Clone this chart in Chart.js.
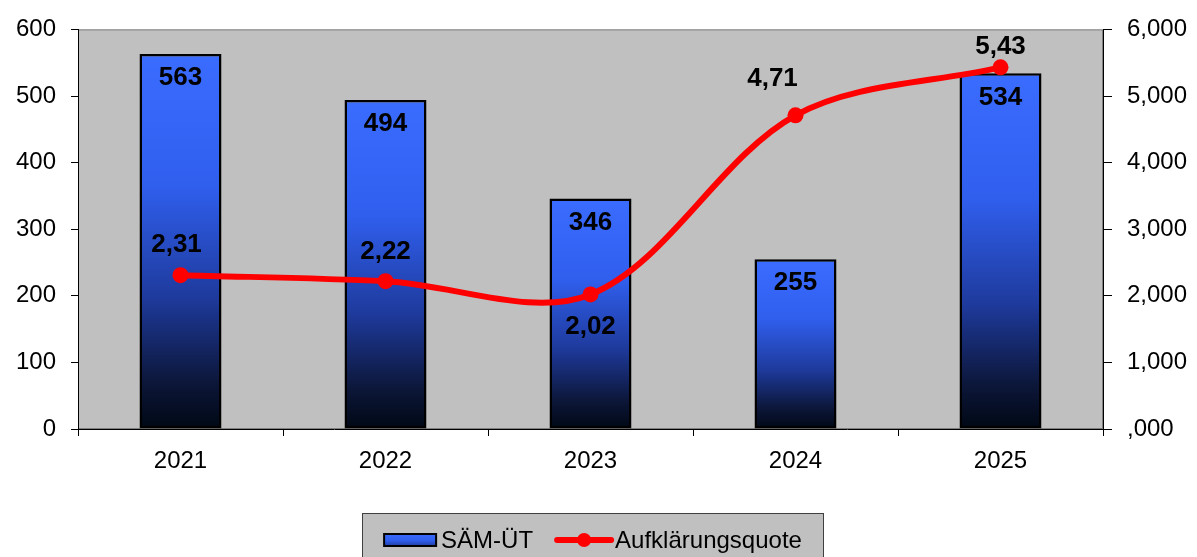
<!DOCTYPE html>
<html>
<head>
<meta charset="utf-8">
<title>SÄM-ÜT / Aufklärungsquote</title>
<script src="https://cdn.jsdelivr.net/npm/chart.js@4/dist/chart.umd.min.js"></script>
<style>
  body { margin: 0; background: #fff; }
  #chart { display: block; }
</style>
</head>
<body>
<canvas id="chart" width="1197" height="557"></canvas>
<script>
const years = ["2021", "2022", "2023", "2024", "2025"];
const saemUt = [563, 494, 346, 255, 534];
const quote = [2.31, 2.22, 2.02, 4.71, 5.43];
const leftTicks = [0, 100, 200, 300, 400, 500, 600];
const rightTicks = [0, 1, 2, 3, 4, 5, 6];

const axisFont = { family: "'Liberation Sans', Arial, sans-serif", size: 24 };
const boldFont = "bold 26px 'Liberation Sans', Arial, sans-serif";

// german style: 6,000 ... ,000
function fmtRight(v) {
  if (v === 0) return ",000";
  return v.toFixed(3).replace(".", ",");
}

function barGradient(ctx, top, bottom) {
  const g = ctx.createLinearGradient(0, top, 0, bottom);
  g.addColorStop(0, "#3a6cff");
  g.addColorStop(0.35, "#305fee");
  g.addColorStop(0.65, "#1e3a9c");
  g.addColorStop(0.88, "#0c1638");
  g.addColorStop(1, "#000814");
  return g;
}

const plotBackground = {
  id: "plotBackground",
  beforeDraw(chart) {
    const a = chart.chartArea;
    const c = chart.ctx;
    c.save();
    c.fillStyle = "#c0c0c0";
    c.fillRect(a.left, a.top, a.right - a.left, a.bottom - a.top);
    c.strokeStyle = "#808080";
    c.lineWidth = 1;
    c.strokeRect(a.left + 0.5, a.top + 0.5, a.right - a.left - 1, a.bottom - a.top - 1);
    c.restore();
  }
};

const valueLabels = {
  id: "valueLabels",
  afterDatasetsDraw(chart, args, opts) {
    const c = chart.ctx;
    c.save();
    c.font = boldFont;
    c.fillStyle = "#000";
    c.textAlign = "center";
    c.textBaseline = "middle";
    chart.getDatasetMeta(0).data.forEach((bar, i) => {
      c.fillText(String(saemUt[i]), bar.x, bar.y + 24);
    });
    chart.getDatasetMeta(1).data.forEach((pt, i) => {
      const off = opts.lineOffsets[i];
      c.fillText(quote[i].toFixed(2).replace(".", ","), pt.x + off[0], pt.y + off[1]);
    });
    c.restore();
  }
};

const boxLegend = {
  id: "boxLegend",
  afterDraw(chart) {
    const c = chart.ctx;
    const bx = 362, by = 513, bw = 462, bh = 50;
    c.save();
    c.fillStyle = "#c0c0c0";
    c.fillRect(bx, by, bw, bh);
    c.strokeStyle = "#404040";
    c.lineWidth = 1;
    c.strokeRect(bx + 0.5, by + 0.5, bw - 1, bh - 1);

    const cy = 540;
    c.font = axisFont.size + "px " + axisFont.family;
    c.textBaseline = "middle";
    c.textAlign = "left";
    const t1 = chart.data.datasets[0].label;
    const t2 = chart.data.datasets[1].label;
    const w1 = c.measureText(t1).width;
    const w2 = c.measureText(t2).width;
    const total = 52 + 5 + w1 + 22 + 58 + 2 + w2;
    let x = bx + (bw - total) / 2;

    // bar symbol
    c.fillStyle = barGradient(c, cy - 7, cy + 14);
    c.fillRect(x, cy - 6, 52, 12);
    c.strokeStyle = "#000";
    c.lineWidth = 2;
    c.strokeRect(x, cy - 6, 52, 12);
    x += 57;
    c.fillStyle = "#000";
    c.fillText(t1, x, cy + 1);
    x += w1 + 22;

    // line symbol
    c.strokeStyle = "#ff0000";
    c.lineWidth = 6;
    c.lineCap = "round";
    c.beginPath();
    c.moveTo(x + 2, cy);
    c.lineTo(x + 56, cy);
    c.stroke();
    c.fillStyle = "#ff0000";
    c.beginPath();
    c.arc(x + 29, cy, 7, 0, Math.PI * 2);
    c.fill();
    x += 60;
    c.fillStyle = "#000";
    c.fillText(t2, x, cy + 1);
    c.restore();
  }
};

new Chart(document.getElementById("chart"), {
  type: "bar",
  data: {
    labels: years,
    datasets: [
      {
        type: "bar",
        label: "SÄM-ÜT",
        data: saemUt,
        yAxisID: "y",
        order: 1,
        barPercentage: 0.8,
        categoryPercentage: 0.5,
        borderColor: "#000",
        borderWidth: 2.5,
        borderSkipped: false,
        backgroundColor: (ctx) => {
          const chart = ctx.chart;
          const area = chart.chartArea;
          if (!area || ctx.type !== "data") return "#3366ff";
          const top = chart.scales.y.getPixelForValue(ctx.raw);
          return barGradient(chart.ctx, top, area.bottom);
        }
      },
      {
        type: "line",
        label: "Aufklärungsquote",
        data: quote,
        yAxisID: "y1",
        order: 0,
        borderColor: "#ff0000",
        borderWidth: 6,
        tension: 0.33,
        pointRadius: 8,
        pointBackgroundColor: "#ff0000",
        pointBorderWidth: 0,
        pointHoverRadius: 8,
        fill: false
      }
    ]
  },
  options: {
    responsive: false,
    animation: false,
    layout: { padding: { top: 27, left: 0, right: 0, bottom: 0 } },
    plugins: {
      legend: { display: false },
      tooltip: { enabled: false },
      valueLabels: {
        lineOffsets: [[-4, -30], [0, -29], [0, 32], [-23, -36], [0, -21]]
      }
    },
    scales: {
      x: {
        grid: { offset: true, drawOnChartArea: false, tickLength: 7, color: "#000", lineWidth: 1 },
        border: { color: "#000", width: 1 },
        ticks: { font: axisFont, color: "#000", padding: 11, maxRotation: 0 },
        afterFit: (s) => { s.height = 128; }
      },
      y: {
        position: "left",
        min: leftTicks[0],
        max: leftTicks[leftTicks.length - 1],
        afterBuildTicks: (s) => { s.ticks = leftTicks.map(v => ({ value: v })); },
        grid: { drawOnChartArea: false, tickLength: 7, color: "#000" },
        border: { color: "#000", width: 1 },
        ticks: { font: axisFont, color: "#000", padding: 15 },
        afterFit: (s) => { s.width = 78; }
      },
      y1: {
        position: "right",
        min: rightTicks[0],
        max: rightTicks[rightTicks.length - 1],
        afterBuildTicks: (s) => { s.ticks = rightTicks.map(v => ({ value: v })); },
        grid: { drawOnChartArea: false, tickLength: 9, color: "#000" },
        border: { color: "#000", width: 1 },
        ticks: { font: axisFont, color: "#000", padding: 15, callback: (v) => fmtRight(v) },
        afterFit: (s) => { s.width = 94; }
      }
    }
  },
  plugins: [plotBackground, valueLabels, boxLegend]
});
</script>
</body>
</html>
